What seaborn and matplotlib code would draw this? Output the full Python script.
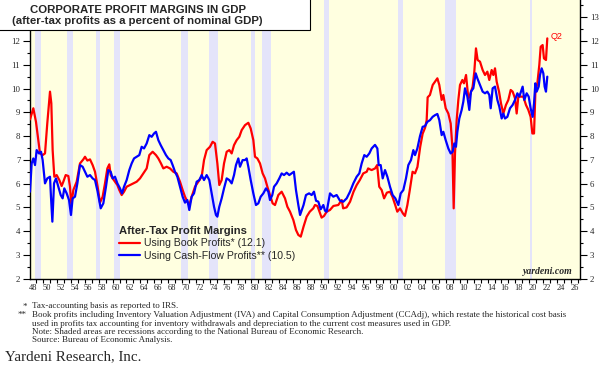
import numpy as np
import pandas as pd
import matplotlib
matplotlib.use("Agg")
import matplotlib.pyplot as plt
from matplotlib.patches import Rectangle
from matplotlib.lines import Line2D
from matplotlib.font_manager import FontProperties
import seaborn as sns

# ---------------- data ----------------
book_years = [1948.11, 1948.59, 1948.97, 1949.31, 1949.55, 1949.93, 1950.27, 1950.6, 1950.99, 1951.18,
              1951.37, 1951.61, 1951.95, 1952.33, 1952.67, 1952.91, 1953.25, 1953.63, 1953.87, 1954.06,
              1954.35, 1954.83, 1955.31, 1955.79, 1956.03, 1956.37, 1956.75, 1957.13, 1957.47, 1957.85,
              1958.19, 1958.57, 1958.91, 1959.25, 1959.53, 1959.73, 1960.01, 1960.35, 1960.69, 1960.97,
              1961.31, 1961.65, 1962.03, 1962.51, 1962.99, 1963.47, 1963.95, 1964.43, 1964.91, 1965.29,
              1965.77, 1966.25, 1966.59, 1966.97, 1967.31, 1967.79, 1968.27, 1968.75, 1969.23, 1969.71,
              1970.09, 1970.43, 1970.77, 1971.05, 1971.39, 1971.87, 1972.35, 1972.83, 1973.17, 1973.55,
              1974.03, 1974.41, 1974.75, 1975.09, 1975.37, 1975.71, 1976.05, 1976.43, 1976.81, 1977.15,
              1977.49, 1977.87, 1978.25, 1978.59, 1979.07, 1979.55, 1979.89, 1980.27, 1980.51, 1980.85,
              1981.23, 1981.61, 1981.95, 1982.29, 1982.67, 1983.05, 1983.39, 1983.87, 1984.35, 1984.83,
              1985.17, 1985.55, 1986.03, 1986.41, 1986.75, 1987.1, 1987.5, 1987.95, 1988.4, 1988.9,
              1989.15, 1989.5, 1989.8, 1990.1, 1990.45, 1990.83, 1991.3, 1991.8, 1992.5, 1993.0,
              1993.2, 1993.7, 1994.2, 1994.7, 1995.15, 1995.6, 1996.1, 1996.6, 1996.8, 1997.3,
              1997.8, 1998.1, 1998.4, 1998.75, 1999.1, 1999.5, 1999.95, 2000.3, 2000.7, 2001.0,
              2001.4, 2001.8, 2002.1, 2002.45, 2002.8, 2003.2, 2003.55, 2003.9, 2004.3, 2004.65,
              2005.0, 2005.23, 2005.37, 2005.7, 2006.1, 2006.43, 2006.77, 2007.05, 2007.39, 2007.63,
              2007.97, 2008.35, 2008.69, 2008.93, 2009.12, 2009.31, 2009.55, 2009.79, 2010.03, 2010.37,
              2010.6, 2010.9, 2011.23, 2011.47, 2011.85, 2012.09, 2012.33, 2012.57, 2012.91, 2013.29,
              2013.63, 2013.97, 2014.25, 2014.59, 2014.83, 2015.07, 2015.31, 2015.65, 2015.93, 2016.27,
              2016.65, 2016.99, 2017.33, 2017.61, 2017.95, 2018.19, 2018.43, 2018.77, 2019.15, 2019.53,
              2019.87, 2020.2, 2020.45, 2020.69, 2020.88, 2021.17, 2021.45, 2021.65, 2021.93, 2022.12,
              2022.41, 2022.6]
book_vals = [8.7, 9.17, 8.6, 7.83, 7.27, 7.2, 7.27, 8.54, 9.87, 9.38,
             7.41, 6.29, 6.36, 6.15, 5.9, 6.08, 6.36, 6.32, 5.87, 5.1,
             5.73, 6.08, 6.85, 7.02, 7.13, 6.97, 7.02, 6.78, 6.5, 5.87,
             5.2, 5.45, 6.01, 6.64, 6.81, 6.36, 6.22, 6.08, 5.94, 5.73,
             5.52, 5.66, 5.87, 5.94, 6.01, 6.08, 6.22, 6.43, 6.64, 7.2,
             7.34, 7.2, 7.06, 6.85, 6.64, 6.71, 6.64, 6.5, 6.43, 6.08,
             5.73, 5.45, 5.24, 5.1, 5.45, 5.87, 6.08, 6.29, 6.99, 7.41,
             7.55, 7.76, 7.69, 6.85, 5.94, 6.15, 6.85, 7.34, 7.41, 7.27,
             7.62, 7.83, 7.97, 8.25, 8.46, 8.56, 8.32, 7.83, 7.13, 7.06,
             6.85, 6.43, 6.22, 5.87, 5.52, 5.17, 5.1, 5.52, 5.66, 5.38,
             5.03, 4.82, 4.47, 4.05, 3.84, 3.77, 4.19, 4.61, 4.82, 4.96,
             5.1, 5.06, 4.82, 4.57, 4.64, 4.82, 4.89, 5.06, 5.1, 5.31,
             4.96, 5.0, 5.24, 5.66, 5.94, 6.15, 6.43, 6.5, 6.64, 6.57,
             6.64, 6.78, 5.87, 5.73, 5.38, 5.62, 5.66, 5.45, 5.1, 4.82,
             4.96, 4.75, 4.64, 5.1, 5.73, 6.5, 6.43, 6.7, 7.55, 8.1,
             8.35, 8.67, 9.63, 9.73, 10.15, 10.29, 10.43, 10.15, 9.52, 9.73,
             9.17, 8.95, 8.53, 7.55, 4.96, 7.27, 8.67, 9.52, 10.15, 10.36,
             10.22, 10.57, 9.59, 9.73, 10.08, 10.71, 11.69, 11.2, 11.13, 10.78,
             10.57, 10.71, 10.36, 10.78, 10.57, 10.85, 10.29, 9.87, 9.38, 8.95,
             9.31, 9.52, 9.94, 9.87, 9.59, 8.95, 9.66, 9.66, 9.66, 9.31,
             9.1, 8.81, 8.11, 8.11, 9.8, 10.22, 10.99, 11.76, 11.83, 11.27,
             11.2, 12.11]

cash_years = [1948.11, 1948.35, 1948.59, 1948.83, 1949.07, 1949.4, 1949.7, 1949.93, 1950.27, 1950.6,
              1950.99, 1951.13, 1951.33, 1951.57, 1951.85, 1952.19, 1952.53, 1952.81, 1953.05, 1953.39,
              1953.73, 1954.01, 1954.25, 1954.59, 1954.93, 1955.31, 1955.69, 1956.03, 1956.37, 1956.75,
              1957.13, 1957.47, 1957.85, 1958.29, 1958.67, 1959.05, 1959.39, 1959.73, 1960.01, 1960.35,
              1960.69, 1961.07, 1961.36, 1961.65, 1962.03, 1962.41, 1962.75, 1963.09, 1963.47, 1963.85,
              1964.19, 1964.53, 1964.91, 1965.29, 1965.63, 1965.97, 1966.25, 1966.59, 1966.93, 1967.31,
              1967.69, 1968.03, 1968.37, 1968.65, 1968.99, 1969.33, 1969.71, 1970.09, 1970.43, 1970.77,
              1971.05, 1971.39, 1971.73, 1972.11, 1972.49, 1972.83, 1973.17, 1973.55, 1973.93, 1974.27,
              1974.61, 1974.89, 1975.09, 1975.37, 1975.71, 1976.05, 1976.43, 1976.81, 1977.15, 1977.49,
              1977.77, 1978.11, 1978.35, 1978.73, 1979.07, 1979.31, 1979.55, 1979.89, 1980.27, 1980.65,
              1980.99, 1981.33, 1981.71, 1982.09, 1982.43, 1982.67, 1983.0, 1983.25, 1983.63, 1984.01,
              1984.35, 1984.69, 1985.07, 1985.45, 1985.79, 1986.11, 1986.41, 1986.75, 1987.0, 1987.5,
              1987.85, 1988.3, 1988.67, 1989.0, 1989.3, 1989.63, 1989.97, 1990.35, 1990.59, 1990.83,
              1991.31, 1991.79, 1992.27, 1992.75, 1993.23, 1993.71, 1994.19, 1994.67, 1995.15, 1995.53,
              1995.87, 1996.25, 1996.59, 1996.97, 1997.31, 1997.79, 1998.13, 1998.32, 1998.61, 1998.9,
              1999.23, 1999.57, 1999.95, 2000.33, 2000.72, 2001.15, 2001.49, 2001.87, 2002.25, 2002.59,
              2002.97, 2003.31, 2003.55, 2003.89, 2004.27, 2004.65, 2004.99, 2005.33, 2005.71, 2006.09,
              2006.43, 2006.77, 2007.05, 2007.39, 2007.63, 2007.97, 2008.35, 2008.69, 2008.97, 2009.21,
              2009.45, 2009.65, 2009.93, 2010.27, 2010.51, 2010.75, 2011.09, 2011.37, 2011.61, 2011.95,
              2012.29, 2012.53, 2012.91, 2013.29, 2013.63, 2013.97, 2014.25, 2014.45, 2014.73, 2015.07,
              2015.41, 2015.69, 2016.03, 2016.27, 2016.51, 2016.85, 2017.23, 2017.61, 2017.95, 2018.29,
              2018.57, 2018.81, 2019.05, 2019.29, 2019.63, 2019.92, 2020.2, 2020.49, 2020.69, 2020.88,
              2021.07, 2021.36, 2021.55, 2021.79, 2022.03, 2022.22, 2022.41, 2022.6]
cash_vals = [5.66, 6.85, 7.06, 6.78, 7.41, 7.27, 7.34, 6.99, 6.01, 6.22,
             6.29, 5.45, 4.4, 6.01, 6.22, 5.87, 5.52, 5.38, 5.8, 5.59,
             5.31, 4.68, 5.38, 5.45, 6.01, 6.78, 6.71, 6.5, 6.29, 6.36,
             6.22, 6.15, 5.66, 4.96, 5.17, 5.87, 6.57, 6.5, 6.22, 6.29,
             6.01, 5.8, 5.59, 5.87, 6.15, 6.57, 6.85, 7.06, 7.13, 7.2,
             7.55, 7.48, 7.69, 8.04, 7.97, 8.11, 8.18, 7.83, 7.62, 7.41,
             7.2, 7.06, 6.99, 6.78, 6.5, 6.29, 5.87, 5.45, 5.2, 5.31,
             4.89, 5.45, 5.59, 6.08, 6.15, 6.36, 6.15, 6.36, 6.15, 5.59,
             5.03, 4.68, 4.61, 5.03, 5.38, 5.8, 6.22, 6.15, 6.01, 6.36,
             6.78, 7.06, 6.71, 6.99, 6.99, 7.06, 6.71, 6.15, 5.59, 5.1,
             5.17, 5.45, 5.59, 5.8, 5.66, 5.31, 5.52, 5.87, 6.01, 6.22,
             6.43, 6.36, 6.46, 6.36, 6.43, 6.5, 5.73, 5.1, 4.68, 5.1,
             5.52, 5.59, 5.52, 5.66, 5.28, 5.24, 4.92, 5.1, 4.86, 4.82,
             5.59, 5.45, 5.52, 5.28, 5.24, 5.38, 5.66, 6.01, 6.29, 6.43,
             6.85, 7.2, 7.13, 7.27, 7.48, 7.63, 7.48, 6.78, 6.78, 6.22,
             6.57, 6.29, 5.87, 5.52, 5.38, 5.1, 5.59, 5.73, 6.22, 6.78,
             6.99, 7.41, 7.2, 7.48, 8.0, 8.39, 8.42, 8.6, 8.67, 8.81,
             8.88, 8.93, 8.67, 8.04, 8.18, 7.83, 7.48, 7.27, 7.34, 7.69,
             7.55, 8.18, 8.74, 9.1, 9.45, 10.01, 9.66, 9.1, 9.87, 10.01,
             10.64, 10.43, 10.15, 9.87, 9.8, 9.87, 9.73, 9.17, 10.01, 10.08,
             9.52, 9.24, 8.74, 8.95, 8.74, 8.81, 9.17, 9.31, 9.52, 9.8,
             9.66, 9.87, 10.08, 9.52, 9.8, 9.66, 9.17, 8.81, 9.38, 10.22,
             9.87, 10.08, 10.57, 10.85, 10.64, 10.08, 9.87, 10.5]

recession_starts = [1948.83, 1953.5, 1957.58, 1960.25, 1969.92, 1973.83, 1980.0, 1981.5,
                    1990.5, 2001.17, 2007.92, 2020.08]
recession_ends = [1949.75, 1954.33, 1958.25, 1961.08, 1970.83, 1975.17, 1980.5, 1982.83,
                  1991.17, 2001.83, 2009.42, 2020.33]

series_names = ["Using Book Profits* (12.1)", "Using Cash-Flow Profits** (10.5)"]
series_colors = ["#FF0000", "#0000FF"]
x_tick_years = list(range(1948, 2027, 2))
y_ticks = list(range(2, 14))

title_lines = ["CORPORATE PROFIT MARGINS IN GDP",
               "(after-tax profits as a percent of nominal GDP)"]
legend_title = "After-Tax Profit Margins"
footnote_marks = ["*", "**", "", "", ""]
footnote_lines = [
    "Tax-accounting basis as reported to IRS.",
    "Book profits including Inventory Valuation Adjustment (IVA) and Capital Consumption Adjustment (CCAdj), which restate the historical cost basis",
    "used in profits tax accounting for inventory withdrawals and depreciation to the current cost measures used in GDP.",
    "Note: Shaded areas are recessions according to the National Bureau of Economic Research.",
    "Source: Bureau of Economic Analysis.",
]

# ---------------- style ----------------
sns.set_style("ticks")
SERIF = ["Liberation Serif", "DejaVu Serif"]
SANS = ["Liberation Sans", "DejaVu Sans"]
plt.rcParams["font.family"] = SERIF

df = pd.concat([
    pd.DataFrame({"year": book_years, "pct": book_vals, "series": series_names[0]}),
    pd.DataFrame({"year": cash_years, "pct": cash_vals, "series": series_names[1]}),
], ignore_index=True)

W, H = 602, 379
fig = plt.figure(figsize=(W / 100, H / 100), dpi=100)
fig.patch.set_facecolor("white")
ax = fig.add_axes([30 / W, 1 - 278.7 / H, 550 / W, 278.7 / H])
ax.set_facecolor("#FFFFE0")

for s, e in zip(recession_starts, recession_ends):
    ax.axvspan(s, e, color="#E4E4FA", lw=0, zorder=0.5)

sns.lineplot(data=df, x="year", y="pct", hue="series", hue_order=series_names,
             palette=dict(zip(series_names, series_colors)), estimator=None, sort=False,
             lw=1.6, ax=ax, legend=False, zorder=3)

ax.set_xlim(1948.11, 2027.31)
ax.set_ylim(2, 13.725)
ax.set_xlabel("")
ax.set_ylabel("")

ax.set_xticks([y + 0.5 for y in x_tick_years])
ax.set_xticklabels([f"{y % 100:02d}" for y in x_tick_years])
ax.set_xticks(range(1949, 2028), minor=True)
ax.tick_params(axis="x", which="major", length=0, pad=3.5, labelsize=6)
ax.tick_params(axis="x", which="minor", length=3, width=0.8, direction="out", color="black")

ax.set_yticks(y_ticks)
ax.set_yticklabels([str(v) for v in y_ticks])
ax.set_yticks(np.arange(2.5, 13.6, 1.0), minor=True)
ax.tick_params(axis="y", which="major", length=5, width=0.8, left=True, right=True,
               labelleft=True, labelright=True, pad=2, labelsize=6.3, color="black")
ax.tick_params(axis="y", which="minor", length=2.5, width=0.8, left=True, right=True, color="black")
# the left "13" sits under the title box in the reference
ax.yaxis.get_major_ticks()[-1].label1.set_visible(False)

ax.spines["top"].set_visible(False)
for sp in ["left", "right", "bottom"]:
    ax.spines[sp].set_color("black")
    ax.spines[sp].set_linewidth(1.0)

# legend
handles = [Line2D([], [], color=c, lw=1.6) for c in series_colors]
leg = ax.legend(handles, series_names, title=legend_title, loc="upper left",
                bbox_to_anchor=(119 / W, 1 - 225.5 / H), bbox_transform=fig.transFigure,
                frameon=False, prop=FontProperties(family=SANS, size=7.55),
                title_fontproperties=FontProperties(family=SANS, size=8.1, weight="bold"),
                handlelength=2.0, handletextpad=0.35, labelspacing=0.26,
                borderpad=0, borderaxespad=0)
leg._legend_box.align = "left"

# Q2 label
ax.annotate("Q2", xy=(book_years[-1], book_vals[-1]), xytext=(2.2, 1.0),
            textcoords="offset points", color=series_colors[0], fontsize=6.5,
            family=SANS, ha="left", va="center")

ax.text(0.987, 0.025, "yardeni.com", transform=ax.transAxes, ha="right", va="center",
        fontsize=7, weight="bold", style="italic", family=SERIF)

# title box
fig.add_artist(Rectangle((-0.01, 1 - 30 / H), 310 / W + 0.01, 30 / H + 0.01,
                         transform=fig.transFigure, facecolor="white", edgecolor="black",
                         lw=0.8, zorder=10))
fig.text(137.5 / W, 1 - 10 / H, title_lines[0], ha="center", va="center", weight="bold",
         size=8.2, family=SANS, zorder=11)
fig.text(137.5 / W, 1 - 20.5 / H, title_lines[1], ha="center", va="center", weight="bold",
         size=8.2, family=SANS, zorder=11)

# footnotes
foot_y = [306.5, 315, 323.5, 331.5, 339.5]
for mark, line, yy in zip(footnote_marks, footnote_lines, foot_y):
    if mark:
        fig.text(27 / W, 1 - yy / H, mark, ha="right", va="center", size=6.45, family=SERIF)
    fig.text(31.7 / W, 1 - yy / H, line, ha="left", va="center", size=6.45, family=SERIF)
fig.text(4.6 / W, 1 - 356.5 / H, "Yardeni Research, Inc.", ha="left", va="center",
         size=10.8, family=SERIF)

fig.savefig("out.png", dpi=100, facecolor="white")
